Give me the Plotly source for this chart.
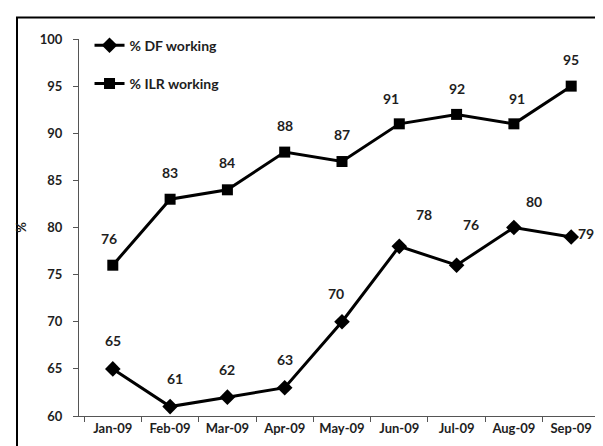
import plotly.graph_objects as go

months = ["Jan-09", "Feb-09", "Mar-09", "Apr-09", "May-09", "Jun-09", "Jul-09", "Aug-09", "Sep-09"]
df_working = [65, 61, 62, 63, 70, 78, 76, 80, 79]
ilr_working = [76, 83, 84, 88, 87, 91, 92, 91, 95]
y_ticks = [60, 65, 70, 75, 80, 85, 90, 95, 100]

FONT = "Lato"
TXT = "#1e1e1e"
W, H = 603, 446
ML, MR, MT, MB = 71, 6, 31, 38


def f(size):
    return dict(family=FONT, size=size, color=TXT, weight="bold")


fig = go.Figure()
fig.add_trace(go.Scatter(
    x=months, y=df_working, name="% DF working", mode="lines+markers",
    line=dict(color="black", width=3),
    marker=dict(symbol="diamond", size=12, color="black"),
    legendgroup="a",
))
fig.add_trace(go.Scatter(
    x=months, y=ilr_working, name="% ILR working", mode="lines+markers",
    line=dict(color="black", width=3),
    marker=dict(symbol="square", size=11, color="black"),
    legendgroup="b",
))

# data labels
df_shift = [(0, 28), (5, 28), (0, 28), (0, 28), (-6, 28), (25, 32), (14, 41), (20, 26), (15, 3)]
ilr_shift = [(-4, 27), (0, 27), (0, 27), (0, 27), (0, 27), (-8, 25), (0, 26), (3, 25), (0, 27)]
for m, v, (dx, dy) in zip(months, df_working, df_shift):
    fig.add_annotation(x=m, y=v, text=str(v), showarrow=False, xshift=dx, yshift=dy, font=f(14))
for m, v, (dx, dy) in zip(months, ilr_working, ilr_shift):
    fig.add_annotation(x=m, y=v, text=str(v), showarrow=False, xshift=dx, yshift=dy, font=f(14))

pw, ph = W - ML - MR, H - MT - MB
fig.add_shape(type="rect", xref="paper", yref="paper",
              x0=(9 - ML) / pw, x1=(W + 5 - ML) / pw,
              y0=(H - MB - (H + 5)) / ph, y1=(H - MB - 9.5) / ph,
              line=dict(color="black", width=2), layer="below")

fig.update_layout(
    width=W, height=H,
    margin=dict(l=ML, r=MR, t=MT, b=MB, pad=0),
    paper_bgcolor="white", plot_bgcolor="white",
    font=f(14),
    showlegend=True,
    legend=dict(x=0.02, y=1.025, xanchor="left", yanchor="top",
                bgcolor="rgba(0,0,0,0)", font=f(14),
                tracegroupgap=17, traceorder="grouped", itemwidth=30),
    xaxis=dict(
        type="category", tickson="boundaries", showline=True, linecolor="#555", linewidth=1,
        ticks="outside", ticklen=5, tickcolor="#555", showgrid=False, zeroline=False,
        tickfont=f(13),
    ),
    yaxis=dict(
        range=[60, 100], tickvals=y_ticks, showline=True, linecolor="#555", linewidth=1,
        ticks="outside", ticklen=5, tickcolor="#555", showgrid=False, zeroline=False,
        tickfont=f(13), ticklabelstandoff=8,
        title=dict(text="%", font=f(13), standoff=10),
    ),
)

fig.write_html("out.html")
